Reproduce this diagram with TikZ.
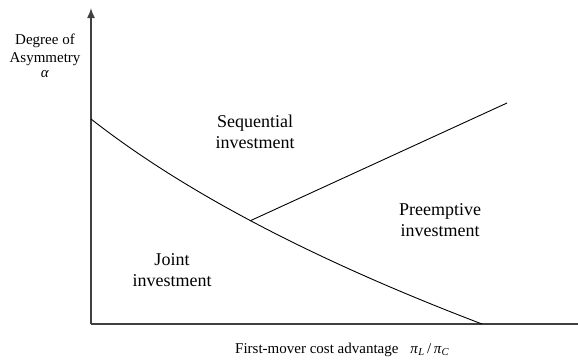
\documentclass[tikz,border=0pt]{standalone}
\usepackage{fontspec}
\setmainfont{Liberation Serif}
\usetikzlibrary{arrows.meta}
\begin{document}
\begin{tikzpicture}[x=1pt,y=-1pt,
  axisline/.style={draw=black!75,line width=1.5pt},
  bound/.style={draw=black,line width=0.9pt},
  region/.style={align=center,font=\fontsize{18}{21}\selectfont,inner sep=0pt},
  axlabel/.style={font=\fontsize{15}{17}\selectfont,inner sep=0pt}]
\useasboundingbox (0,0) rectangle (578,360);
% axes
\coordinate (O) at (91,324);
\coordinate (ytop) at (91,8);
\coordinate (xend) at (578,324);
\draw[axisline,-{Latex[length=10pt,width=8pt]}] (O) -- (ytop);
\draw[axisline] (O) -- (xend);
% boundaries
\coordinate (c0) at (91,119);
\coordinate (c1) at (482,324);
\draw[bound] (c0) .. controls (183.7,191.7) and (314,260) .. (c1) coordinate[pos=0.48] (j);
\coordinate (e) at (507,103);
\draw[bound] (j) -- (e);
% labels
\node[region] (seq) at (255,132) {Sequential\\investment};
\node[region] (pre) at (440,220) {Preemptive\\investment};
\node[region] (joint) at (172,270) {Joint\\investment};
\node[axlabel,align=center,anchor=north] (ylab) at (45,34) {Degree of\\[1pt]Asymmetry\\[-2pt]\textit{α}};
\node[axlabel,anchor=west] (xlab) at (235,350) {First-mover cost advantage\hspace{0.8em}\textit{π}\textsubscript{\textit{L}}\,/\,\textit{π}\textsubscript{\textit{C}}};
\end{tikzpicture}
\end{document}
